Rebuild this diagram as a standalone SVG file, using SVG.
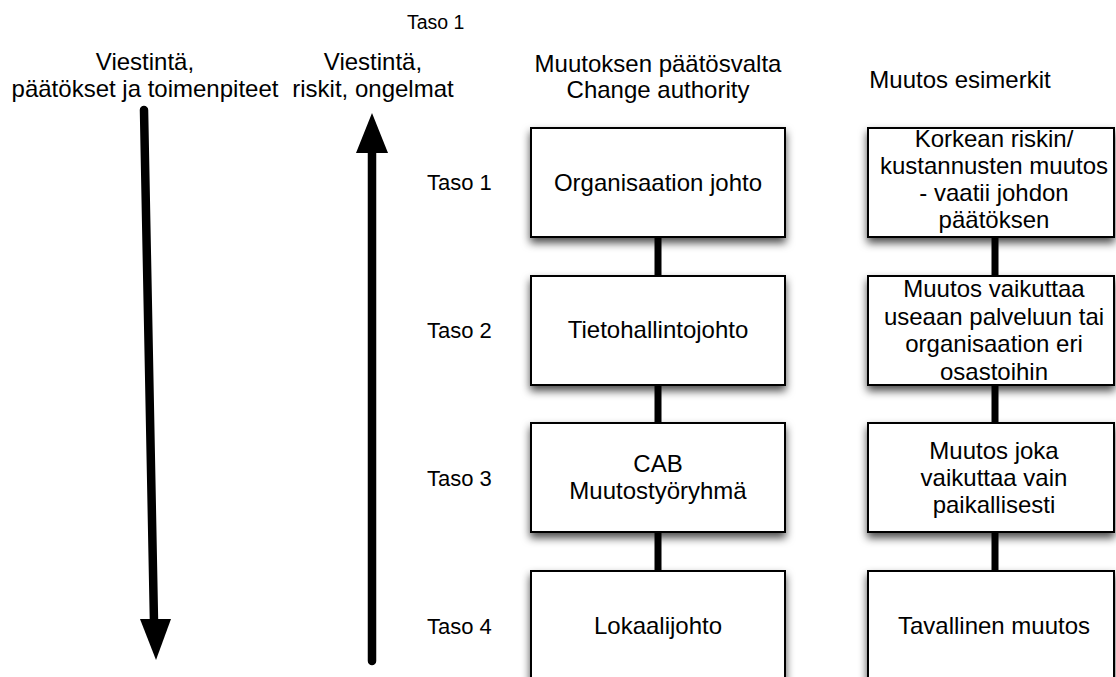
<svg xmlns="http://www.w3.org/2000/svg" width="1116" height="677" viewBox="0 0 1116 677">
  <defs>
    <filter id="shadow" x="-10%" y="-10%" width="120%" height="135%">
      <feDropShadow dx="0" dy="5" stdDeviation="4" flood-color="#000" flood-opacity="0.7"/>
    </filter>
    <style>
      text { font-family: "Liberation Sans", Arial, Helvetica, sans-serif; fill: #000; }
      .t { font-size: 24px; text-anchor: middle; }
      .lvl { font-size: 22px; }
      .box { fill: #fff; stroke: #000; stroke-width: 2; filter: url(#shadow); }
      .link { stroke: #000; stroke-width: 7; stroke-linecap: round; fill: none; }
      .shaft { stroke: #000; stroke-width: 8.5; stroke-linecap: round; fill: none; }
    </style>
  </defs>

  <rect width="1116" height="677" fill="#fff"/>

  <!-- column headings -->
  <g id="headings">
    <text x="407" y="29" style="font-size:19.5px">Taso 1</text>
    <text class="t" x="145" y="70">Viestintä,</text>
    <text class="t" x="145" y="97">päätökset ja toimenpiteet</text>
    <text class="t" x="373" y="70">Viestintä,</text>
    <text class="t" x="373" y="97">riskit, ongelmat</text>
    <text class="t" x="658" y="72">Muutoksen päätösvalta</text>
    <text class="t" x="658" y="98">Change authority</text>
    <text class="t" x="960" y="88">Muutos esimerkit</text>
  </g>

  <!-- vertical communication arrows -->
  <g id="arrow-down">
    <line class="shaft" x1="144" y1="110" x2="154" y2="622"/>
    <polygon points="140,619 171,619 156,660"/>
  </g>
  <g id="arrow-up">
    <line class="shaft" x1="372" y1="150" x2="372" y2="661"/>
    <polygon points="356,153 388,153 372,113"/>
  </g>

  <!-- level labels -->
  <g id="levels">
    <text class="lvl" x="427" y="190">Taso 1</text>
    <text class="lvl" x="427" y="338">Taso 2</text>
    <text class="lvl" x="427" y="486">Taso 3</text>
    <text class="lvl" x="427" y="634">Taso 4</text>
  </g>

  <!-- connectors between levels -->
  <g id="connectors">
    <line class="link" x1="658" y1="237" x2="658" y2="276"/>
    <line class="link" x1="658" y1="385" x2="658" y2="423"/>
    <line class="link" x1="658" y1="532" x2="658" y2="571"/>
    <line class="link" x1="995" y1="237" x2="995" y2="276"/>
    <line class="link" x1="995" y1="385" x2="995" y2="423"/>
    <line class="link" x1="995" y1="532" x2="995" y2="571"/>
  </g>

  <!-- change authority column -->
  <g id="auth-1">
    <rect class="box" x="531" y="128" width="254" height="109"/>
    <text class="t" x="658" y="191">Organisaation johto</text>
  </g>
  <g id="auth-2">
    <rect class="box" x="531" y="276" width="254" height="109"/>
    <text class="t" x="658" y="338">Tietohallintojohto</text>
  </g>
  <g id="auth-3">
    <rect class="box" x="531" y="423" width="254" height="109"/>
    <text class="t" x="658" y="472">CAB</text>
    <text class="t" x="658" y="499">Muutostyöryhmä</text>
  </g>
  <g id="auth-4">
    <rect class="box" x="531" y="571" width="254" height="120"/>
    <text class="t" x="658" y="634">Lokaalijohto</text>
  </g>

  <!-- example changes column -->
  <g id="example-1">
    <rect class="box" x="868" y="128" width="246" height="109"/>
    <text class="t" x="994" y="147">Korkean riskin/</text>
    <text class="t" x="994" y="174">kustannusten muutos</text>
    <text class="t" x="994" y="201">- vaatii johdon</text>
    <text class="t" x="994" y="228">päätöksen</text>
  </g>
  <g id="example-2">
    <rect class="box" x="868" y="276" width="246" height="109"/>
    <text class="t" x="994" y="297">Muutos vaikuttaa</text>
    <text class="t" x="994" y="325">useaan palveluun tai</text>
    <text class="t" x="994" y="352">organisaation eri</text>
    <text class="t" x="994" y="380">osastoihin</text>
  </g>
  <g id="example-3">
    <rect class="box" x="868" y="423" width="246" height="109"/>
    <text class="t" x="994" y="459">Muutos joka</text>
    <text class="t" x="994" y="486">vaikuttaa vain</text>
    <text class="t" x="994" y="513">paikallisesti</text>
  </g>
  <g id="example-4">
    <rect class="box" x="868" y="571" width="246" height="120"/>
    <text class="t" x="994" y="634">Tavallinen muutos</text>
  </g>
</svg>
